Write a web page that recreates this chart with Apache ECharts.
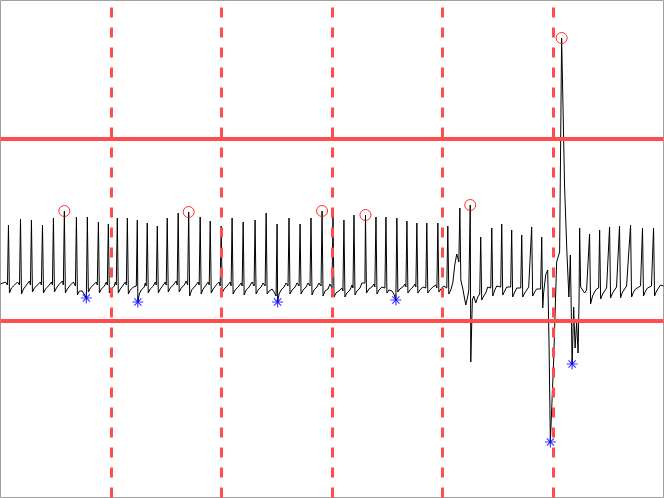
<!DOCTYPE html>
<html>
<head>
<meta charset="utf-8">
<script src="https://cdn.jsdelivr.net/npm/echarts@6/dist/echarts.min.js"></script>
<style>
  html, body { margin: 0; padding: 0; background: #fff; }
  #chart { width: 664px; height: 498px; }
</style>
</head>
<body>
<div id="chart"></div>
<script>
// time in ms, amplitude in mV
var ecg = [
  [0,-0.35],[45,-0.33],[63,-0.36],[72,0.24],[81,-0.44],[99,-0.39],[127,-0.36],
  [154,-0.33],[172,-0.36],[181,0.30],[190,-0.45],[208,-0.40],[235,-0.36],
  [262,-0.32],[271,-0.36],[280,0.29],[289,-0.43],[307,-0.39],[334,-0.36],
  [361,-0.33],[370,-0.36],[380,0.24],[389,-0.44],[407,-0.40],[434,-0.37],
  [461,-0.33],[470,-0.36],[479,0.31],[488,-0.43],[506,-0.39],[533,-0.35],
  [560,-0.32],[569,-0.36],[578,0.38],[587,-0.44],[605,-0.40],[633,-0.36],
  [660,-0.33],[678,-0.37],[687,0.32],[696,-0.46],[714,-0.42],[741,-0.42],
  [759,-0.44],[777,-0.49],[786,0.32],[795,-0.43],[813,-0.39],[840,-0.36],
  [867,-0.33],[876,-0.36],[886,0.27],[895,-0.44],[913,-0.40],[940,-0.37],
  [958,-0.33],[967,-0.36],[976,0.25],[985,-0.44],[1003,-0.40],[1030,-0.37],
  [1039,-0.33],[1048,-0.36],[1057,0.31],[1066,-0.44],[1084,-0.40],[1111,-0.36],
  [1130,-0.33],[1139,-0.36],[1148,0.31],[1157,-0.45],[1175,-0.41],[1202,-0.38],
  [1220,-0.40],[1229,-0.37],[1238,0.29],[1243,-0.53],[1256,-0.45],[1274,-0.41],
  [1301,-0.38],[1310,-0.34],[1319,-0.37],[1328,0.26],[1337,-0.44],[1355,-0.40],
  [1383,-0.37],[1401,-0.33],[1410,-0.36],[1419,0.23],[1428,-0.44],[1446,-0.40],
  [1473,-0.36],[1491,-0.33],[1500,-0.36],[1509,0.31],[1518,-0.43],[1536,-0.39],
  [1563,-0.36],[1590,-0.32],[1599,-0.36],[1608,0.36],[1617,-0.43],[1636,-0.39],
  [1663,-0.36],[1681,-0.32],[1694,-0.36],[1703,0.37],[1712,-0.47],[1730,-0.41],
  [1762,-0.37],[1789,-0.33],[1798,-0.36],[1807,0.32],[1816,-0.45],[1834,-0.40],
  [1861,-0.36],[1879,-0.33],[1889,-0.36],[1898,0.28],[1907,-0.44],[1925,-0.40],
  [1952,-0.36],[1979,-0.33],[1988,-0.37],[1997,0.23],[2006,-0.44],[2024,-0.40],
  [2051,-0.37],[2078,-0.33],[2087,-0.37],[2096,0.31],[2105,-0.45],[2123,-0.41],
  [2151,-0.38],[2178,-0.34],[2187,-0.37],[2196,0.27],[2205,-0.46],[2223,-0.41],
  [2250,-0.38],[2277,-0.33],[2295,-0.37],[2304,0.29],[2313,-0.45],[2331,-0.41],
  [2358,-0.38],[2376,-0.34],[2395,-0.37],[2404,0.36],[2413,-0.45],[2431,-0.42],
  [2458,-0.40],[2476,-0.43],[2494,-0.47],[2503,0.25],[2508,-0.53],[2521,-0.45],
  [2539,-0.41],[2566,-0.38],[2584,-0.34],[2602,-0.37],[2611,0.31],[2620,-0.45],
  [2639,-0.41],[2666,-0.38],[2684,-0.34],[2702,-0.37],[2711,0.25],[2720,-0.45],
  [2738,-0.41],[2765,-0.38],[2783,-0.34],[2801,-0.37],[2810,0.31],[2819,-0.46],
  [2837,-0.41],[2864,-0.38],[2882,-0.34],[2901,-0.37],[2910,0.38],[2919,-0.47],
  [2937,-0.42],[2964,-0.40],[2982,-0.35],[3000,-0.39],[3009,0.34],[3018,-0.48],
  [3036,-0.44],[3063,-0.42],[3090,-0.39],[3099,-0.42],[3108,0.29],[3117,-0.48],
  [3135,-0.44],[3163,-0.41],[3181,-0.36],[3190,-0.39],[3199,0.34],[3208,-0.46],
  [3226,-0.42],[3253,-0.39],[3271,-0.34],[3289,-0.32],[3298,-0.34],[3303,0.34],
  [3312,-0.44],[3334,-0.40],[3361,-0.38],[3379,-0.35],[3388,-0.38],[3398,0.32],
  [3407,-0.45],[3425,-0.41],[3452,-0.38],[3470,-0.36],[3479,-0.39],[3488,0.32],
  [3497,-0.44],[3515,-0.41],[3542,-0.42],[3560,-0.45],[3578,-0.51],[3587,0.31],
  [3596,-0.43],[3614,-0.40],[3641,-0.38],[3660,-0.35],[3669,-0.38],[3678,0.28],
  [3687,-0.44],[3705,-0.41],[3732,-0.38],[3750,-0.35],[3759,-0.38],[3768,0.26],
  [3777,-0.44],[3795,-0.41],[3822,-0.38],[3840,-0.36],[3849,-0.39],[3858,0.26],
  [3867,-0.44],[3885,-0.41],[3913,-0.38],[3940,-0.36],[3949,-0.39],[3958,0.26],
  [3967,-0.43],[3985,-0.40],[4012,-0.37],[4030,-0.36],[4039,-0.39],[4048,0.23],
  [4057,-0.45],[4075,-0.41],[4093,-0.34],[4111,-0.16],[4129,-0.05],[4148,-0.13],
  [4157,0.41],[4166,-0.31],[4184,-0.40],[4202,-0.51],[4211,-0.56],[4229,-0.47],
  [4238,-0.41],[4251,0.44],[4256,-1.13],[4270,-0.51],[4283,-0.47],[4301,-0.54],
  [4319,-0.48],[4337,-0.45],[4346,0.12],[4355,-0.51],[4373,-0.47],[4391,-0.44],
  [4410,-0.38],[4428,-0.40],[4437,-0.39],[4446,0.21],[4455,-0.47],[4473,-0.41],
  [4491,-0.37],[4509,-0.36],[4527,-0.38],[4536,0.25],[4545,-0.46],[4563,-0.42],
  [4581,-0.38],[4599,-0.36],[4617,-0.38],[4626,0.19],[4635,-0.48],[4654,-0.43],
  [4672,-0.39],[4690,-0.37],[4708,-0.39],[4717,0.14],[4726,-0.48],[4744,-0.44],
  [4762,-0.41],[4780,-0.38],[4798,-0.39],[4807,0.22],[4816,-0.47],[4834,-0.43],
  [4852,-0.40],[4870,-0.38],[4888,-0.40],[4898,0.12],[4907,-0.59],[4916,-0.43],
  [4934,-0.26],[4952,-0.21],[4965,-1.01],[4976,-1.93],[5006,-1.11],[5033,-0.13],
  [5060,-0.03],[5078,2.11],[5087,1.62],[5105,0.62],[5126,-0.04],[5144,-0.48],
  [5157,-0.06],[5173,-1.15],[5187,-0.58],[5200,-0.99],[5214,-0.73],[5227,-1.04],
  [5236,-0.51],[5241,0.21],[5250,-0.38],[5268,-0.41],[5286,-0.44],[5304,-0.41],
  [5322,-0.39],[5331,0.15],[5340,-0.55],[5358,-0.47],[5376,-0.43],[5394,-0.40],
  [5413,-0.39],[5422,0.19],[5431,-0.50],[5449,-0.45],[5467,-0.42],[5485,-0.39],
  [5503,-0.38],[5512,0.22],[5521,-0.49],[5539,-0.44],[5557,-0.41],[5575,-0.38],
  [5593,-0.38],[5602,0.23],[5611,-0.49],[5629,-0.43],[5648,-0.40],[5666,-0.37],
  [5684,-0.37],[5702,0.24],[5711,-0.48],[5729,-0.43],[5747,-0.40],[5765,-0.38],
  [5792,-0.37],[5810,0.21],[5819,-0.47],[5837,-0.42],[5855,-0.39],[5873,-0.37],
  [5891,-0.37],[5910,0.21],[5919,-0.47],[5937,-0.42],[5955,-0.39],[5973,-0.36],
  [6000,-0.37]
];

// detected local maxima / minima
var peaks = [[578,0.38],[1703,0.37],[2910,0.38],[3303,0.34],[4251,0.44],[5078,2.11]];
var troughs = [[777,-0.49],[1243,-0.53],[2508,-0.53],[3578,-0.51],[4976,-1.93],[5173,-1.15]];

// threshold levels (mV) and second marks (ms)
var thresholds = [1.10, -0.72];
var secondMarks = [1000, 2000, 3000, 4000, 5000];

var plusPath = 'path://M9 0H11V9H20V11H11V20H9V11H0V9H9Z';
var crossPath = 'path://M10 8.59L15.66 2.93L17.07 4.34L11.41 10L17.07 15.66L15.66 17.07L10 11.41L4.34 17.07L2.93 15.66L8.59 10L2.93 4.34L4.34 2.93Z';

var chart = echarts.init(document.getElementById('chart'));
var hidden = {
  axisLine: {show: false},
  axisTick: {show: false},
  axisLabel: {show: false},
  splitLine: {show: false}
};
var option = {
  animation: false,
  backgroundColor: '#fff',
  grid: {
    left: 0.5, right: 0.5, top: 0.5, bottom: 0.5,
    show: true, borderColor: '#a0a0a0', borderWidth: 1
  },
  xAxis: Object.assign({type: 'value', min: 0, max: 6000}, hidden),
  yAxis: Object.assign({type: 'value', min: -2.485, max: 2.485}, hidden),
  series: [
    {
      name: 'ecg',
      type: 'line',
      data: ecg,
      symbol: 'none',
      z: 2,
      lineStyle: {color: '#000', width: 1}
    },
    {
      name: 'guides',
      type: 'line',
      data: [],
      z: 3,
      markLine: {
        silent: true,
        symbol: ['none', 'none'],
        label: {show: false},
        data: thresholds.map(function (v) {
          return {yAxis: v, lineStyle: {color: '#ff4d4d', width: 4, type: 'solid'}};
        }).concat(secondMarks.map(function (t) {
          return {xAxis: t, lineStyle: {color: '#ff4d4d', width: 3, type: [10, 10]}};
        }))
      }
    },
    {
      name: 'peaks',
      type: 'scatter',
      data: peaks,
      z: 4,
      symbol: 'circle',
      symbolSize: 11,
      itemStyle: {color: 'rgba(0,0,0,0)', borderColor: '#ff0000', borderWidth: 1}
    },
    {
      name: 'troughs',
      type: 'scatter',
      data: troughs,
      z: 4,
      symbol: plusPath,
      symbolSize: 11,
      itemStyle: {color: '#0000ff'}
    },
    {
      name: 'troughs-x',
      type: 'scatter',
      data: troughs,
      z: 4,
      symbol: crossPath,
      symbolSize: 8,
      itemStyle: {color: '#0000ff'}
    }
  ]
};
chart.setOption(option);
</script>
</body>
</html>
